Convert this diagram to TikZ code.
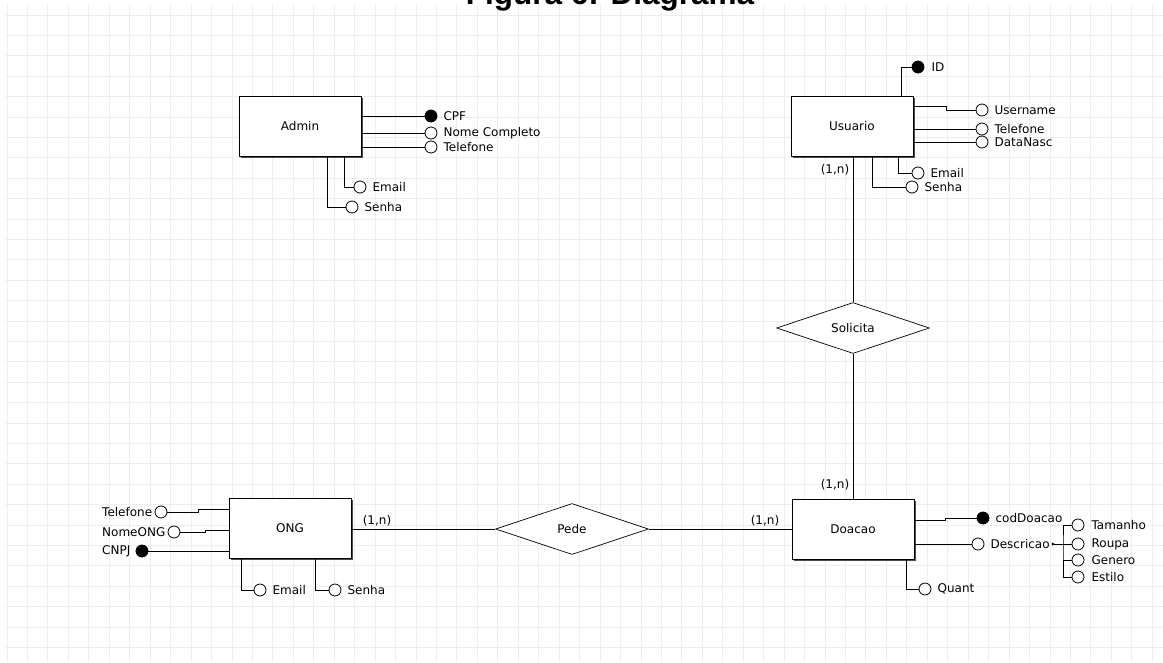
\documentclass[tikz,border=0pt]{standalone}
\usepackage{fontspec}
\setmainfont{DejaVu Sans}
\newfontfamily\titlefont{Liberation Sans}
\usepackage{tikz}
\usetikzlibrary{positioning,shapes.geometric,shadows,arrows.meta}
\definecolor{gridgray}{RGB}{238,238,238}

\tikzset{
  entity/.style={draw, rectangle, fill=white, line width=0.9pt, minimum width=122pt, minimum height=60pt, inner sep=0pt,
    font=\fontsize{12}{12}\selectfont,
    drop shadow={shadow xshift=1.6pt, shadow yshift=-1.6pt, fill=black!70, opacity=1}},
  relation/.style={draw, diamond, aspect=3, fill=white, line width=0.7pt, minimum width=153pt, minimum height=51pt, inner sep=0pt,
    font=\fontsize{12}{12}\selectfont},
  attr/.style={draw, circle, fill=white, line width=0.8pt, minimum size=12pt, inner sep=0pt},
  keyattr/.style={attr, fill=black},
  lbl/.style={inner sep=0pt, font=\fontsize{12}{12}\selectfont},
  link/.style={line width=0.8pt},
  gridline/.style={line width=0.9pt, gridgray},
}

\begin{document}
\begin{tikzpicture}[x=1pt,y=-1pt]
  \useasboundingbox (0,0) rectangle (1163,662);

  % Background grid
  \foreach \gx in {0,...,56}
    \draw[gridline] (7+20.45*\gx,5) -- (7+20.45*\gx,662);
  \foreach \gy in {0,...,31}
    \draw[gridline] (5,15+20.4*\gy) -- (1163,15+20.4*\gy);

  \node[anchor=base, font=\titlefont\bfseries\fontsize{31.5}{32}\selectfont] (title) at (610,4) {Figura 6: Diagrama};

  % Entities
  \node[entity] (admin) at (300,126) {Admin};
  \node[entity] (usuario) at (852,126) {Usuario};
  \node[entity] (ong) at (290,528) {ONG};
  \node[entity] (doacao) at (853,529) {Doacao};

  % Relationships
  \node[relation] (solicita) at (853,328) {Solicita};
  \node[relation] (pede) at (572,529) {Pede};

  \draw[link] (usuario.south -| solicita.north) -- (solicita.north);
  \draw[link] (solicita.south) -- (doacao.north -| solicita.south);
  \draw[link] (ong.east |- pede.west) -- (pede.west);
  \draw[link] (pede.east) -- (doacao.west |- pede.east);

  % Cardinalities
  \node[lbl] (cardusuario) at (835,170) {(1,n)};
  \node[lbl] (carddoacao) at (835,485) {(1,n)};
  \node[lbl] (cardong) at (377,521) {(1,n)};
  \node[lbl] (cardpede) at (765,521) {(1,n)};

  % Admin attributes
  \node[keyattr] (cpf) at (431,116) {};
  \node[attr] (nomecompleto) at (431,133) {};
  \node[attr] (telefonea) at (431,147) {};
  \node[attr] (emaila) at (360,187) {};
  \node[attr] (senhaa) at (352,207) {};
  \node[lbl, right=6pt of cpf] (lcpf) {CPF};
  \node[lbl, right=6pt of nomecompleto] (lnomecompleto) {Nome Completo};
  \node[lbl, right=6pt of telefonea] (ltelefonea) {Telefone};
  \node[lbl, right=6pt of emaila] (lemaila) {Email};
  \node[lbl, right=6pt of senhaa] (lsenhaa) {Senha};
  \draw[link] (admin.east |- cpf) -- (cpf);
  \draw[link] (admin.east |- nomecompleto) -- (nomecompleto);
  \draw[link] (admin.east |- telefonea) -- (telefonea);
  \draw[link] ([xshift=44pt]admin.south) |- (emaila);
  \draw[link] ([xshift=27pt]admin.south) |- (senhaa);

  % Usuario attributes
  \node[keyattr] (id) at (918,67) {};
  \node[attr] (username) at (982,110) {};
  \node[attr] (telefoneu) at (982,129) {};
  \node[attr] (datanasc) at (982,142) {};
  \node[attr] (emailu) at (918,173) {};
  \node[attr] (senhau) at (912,187) {};
  \node[lbl, right=7pt of id] (lid) {ID};
  \node[lbl, right=6pt of username] (lusername) {Username};
  \node[lbl, right=6pt of telefoneu] (ltelefoneu) {Telefone};
  \node[lbl, right=6pt of datanasc] (ldatanasc) {DataNasc};
  \node[lbl, right=6pt of emailu] (lemailu) {Email};
  \node[lbl, right=6pt of senhau] (lsenhau) {Senha};
  \draw[link] ([xshift=49pt]usuario.north) |- (id);
  \draw[link] ([yshift=20pt]usuario.east) -- ++(33,0) |- (username);
  \draw[link] (usuario.east |- telefoneu) -- (telefoneu);
  \draw[link] (usuario.east |- datanasc) -- (datanasc);
  \draw[link] ([xshift=46pt]usuario.south) |- (emailu);
  \draw[link] ([xshift=20pt]usuario.south) |- (senhau);

  % ONG attributes
  \node[attr] (telefoneo) at (161,512) {};
  \node[attr] (nomeong) at (174,532) {};
  \node[keyattr] (cnpj) at (142,551) {};
  \node[attr] (emailo) at (260,590) {};
  \node[attr] (senhao) at (335,590) {};
  \node[lbl, anchor=west] (ltelefoneo) at (102,512) {Telefone};
  \node[lbl, anchor=west] (lnomeong) at (102,532) {NomeONG};
  \node[lbl, anchor=west] (lcnpj) at (102,551) {CNPJ};
  \node[lbl, right=6pt of emailo] (lemailo) {Email};
  \node[lbl, right=6pt of senhao] (lsenhao) {Senha};
  \draw[link] (telefoneo) -- ++(37,0) |- ([yshift=19pt]ong.west);
  \draw[link] (nomeong) -- ++(31,0) |- ([yshift=-2pt]ong.west);
  \draw[link] (cnpj) -- (ong.west |- cnpj);
  \draw[link] ([xshift=-49pt]ong.south) |- (emailo);
  \draw[link] ([xshift=25pt]ong.south) |- (senhao);

  % Doacao attributes
  \node[keyattr] (coddoacao) at (983,518) {};
  \node[attr] (descricao) at (978,544) {};
  \node[attr] (quant) at (925,589) {};
  \node[lbl, right=6pt of coddoacao] (lcoddoacao) {codDoacao};
  \node[lbl, right=6pt of descricao] (ldescricao) {Descricao};
  \node[lbl, right=6pt of quant] (lquant) {Quant};
  \draw[link] ([yshift=9pt]doacao.east) -- ++(31,0) |- (coddoacao);
  \draw[link] (doacao.east |- descricao) -- (descricao);
  \draw[link] ([xshift=53pt]doacao.south) |- (quant);

  % Descricao parts
  \coordinate (descbar) at (1063,544);
  \node[attr] (tamanho) at (1078,525) {};
  \node[attr] (roupa) at (1078,544) {};
  \node[attr] (genero) at (1078,560) {};
  \node[attr] (estilo) at (1078,577) {};
  \node[lbl, right=7pt of tamanho] (ltamanho) {Tamanho};
  \node[lbl, right=7pt of roupa] (lroupa) {Roupa};
  \node[lbl, right=7pt of genero] (lgenero) {Genero};
  \node[lbl, right=7pt of estilo] (lestilo) {Estilo};
  \draw[link, {Latex[reversed,length=3pt,width=3.5pt]}-] ([xshift=2pt]ldescricao.east) -- (descbar);
  \draw[link] (tamanho) -| (descbar) |- (estilo);
  \draw[link] (descbar) -- (roupa);
  \draw[link] (descbar |- genero) -- (genero);
\end{tikzpicture}
\end{document}
